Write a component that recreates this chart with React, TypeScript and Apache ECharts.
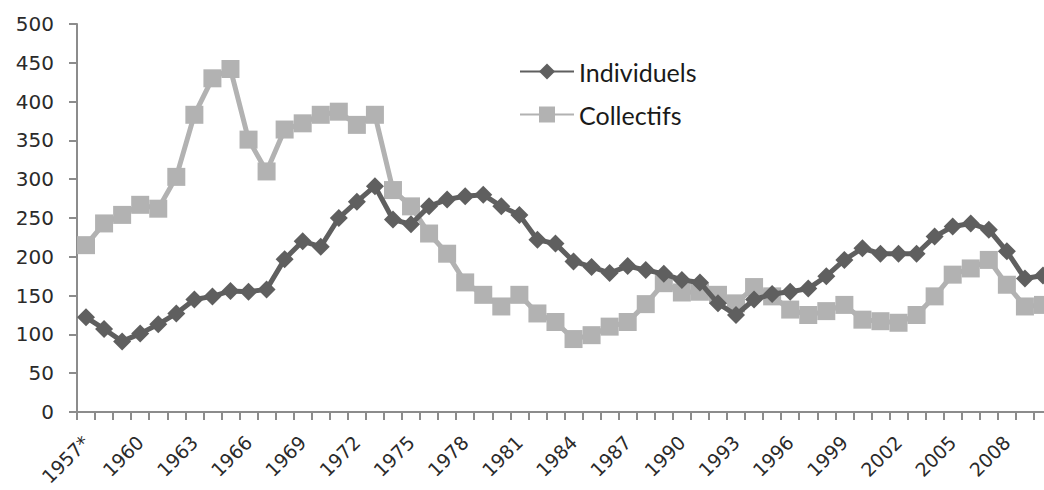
import React, { useEffect, useRef } from "react";
import * as echarts from "echarts";

const years: string[] = ["1957*"];
for (let y = 1958; y <= 2010; y++) years.push(String(y));

const individuels = [
  122, 107, 91, 101, 113, 127, 145, 149, 156, 155, 158, 197, 220, 213, 250, 271, 291,
  248, 242, 265, 274, 278, 280, 265, 254, 222, 217, 194, 187, 179, 188, 183, 178,
  170, 167, 140, 125, 145, 152, 155, 159, 175, 196, 211, 204, 204, 204, 226, 239,
  243, 235, 207, 172, 176,
];

const collectifs = [
  215, 243, 254, 267, 262, 303, 383, 430, 442, 351, 310, 364, 372, 383, 387, 370, 383,
  286, 265, 230, 204, 167, 151, 136, 151, 127, 116, 94, 99, 110, 116, 139, 166,
  154, 155, 151, 140, 161, 149, 132, 125, 130, 138, 119, 117, 115, 125, 149, 177,
  185, 196, 164, 136, 138,
];

export default function App() {
  const ref = useRef<HTMLDivElement>(null);
  useEffect(() => {
    if (!ref.current) return;
    const chart = echarts.init(ref.current, undefined, { renderer: "svg" });
    chart.setOption({
      animation: false,
      backgroundColor: "#ffffff",
      grid: { left: 77, top: 24, bottom: 78, right: 8, containLabel: false, outerBoundsMode: "none" },
      legend: {
        orient: "vertical",
        left: 519,
        top: 59,
        itemWidth: 54,
        itemHeight: 20,
        itemGap: 18,
        padding: 0,
        textStyle: { fontFamily: "Lato", fontSize: 25, color: "#1a1a1a" },
        data: ["Individuels", "Collectifs"],
      },
      xAxis: {
        type: "category",
        data: years,
        boundaryGap: true,
        axisLine: { lineStyle: { color: "#8c8c8c", width: 2 } },
        axisTick: { show: true, interval: 0, length: 8, lineStyle: { color: "#8c8c8c", width: 2 } },
        axisLabel: {
          interval: 2,
          rotate: 45,
          margin: 27,
          fontFamily: "DejaVu Sans",
          fontSize: 19,
          color: "#2a2a2a",
        },
      },
      yAxis: {
        type: "value",
        min: 0,
        max: 500,
        interval: 50,
        splitLine: { show: false },
        axisLine: { show: true, lineStyle: { color: "#8c8c8c", width: 2 } },
        axisTick: { show: true, length: 8, lineStyle: { color: "#8c8c8c", width: 2 } },
        axisLabel: {
          margin: 23,
          fontFamily: "DejaVu Sans",
          fontSize: 20,
          color: "#2a2a2a",
        },
      },
      series: [
        {
          name: "Collectifs",
          type: "line",
          data: collectifs,
          symbol: "rect",
          symbolSize: 18,
          showAllSymbol: true,
          z: 2,
          lineStyle: { color: "#b2b2b2", width: 5 },
          itemStyle: { color: "#b2b2b2" },
        },
        {
          name: "Individuels",
          type: "line",
          data: individuels,
          symbol: "diamond",
          symbolSize: 18,
          showAllSymbol: true,
          z: 3,
          lineStyle: { color: "#5f5f5f", width: 5 },
          itemStyle: { color: "#5f5f5f" },
        },
      ],
    });
    return () => chart.dispose();
  }, []);
  return (
    <div style={{ position: "fixed", left: 0, top: 0, width: 1044, height: 490, overflow: "hidden", background: "#fff" }}>
      <div ref={ref} style={{ width: 1060, height: 490 }} />
    </div>
  );
}
